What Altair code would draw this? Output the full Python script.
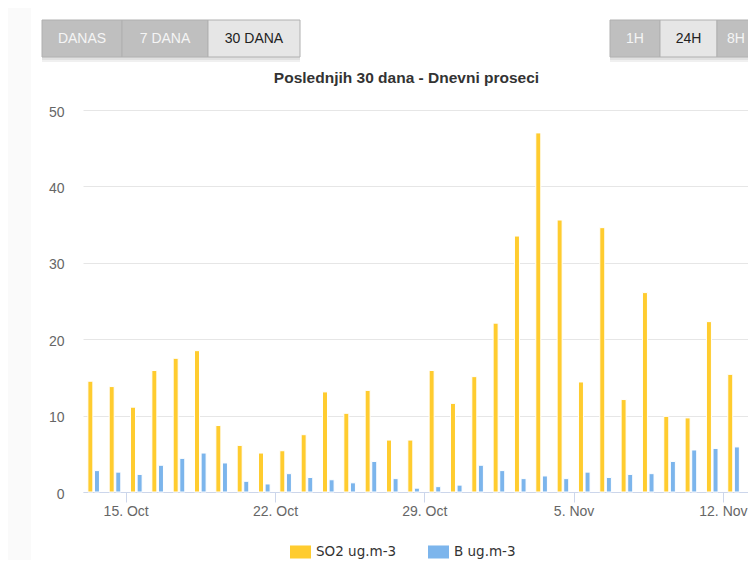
import altair as alt
import pandas as pd

# ---- data ----
days = [f"2018-10-{d:02d}" for d in range(13, 32)] + [f"2018-11-{d:02d}" for d in range(1, 13)]
so2 = [14.5, 13.8, 11.1, 15.9, 17.5, 18.5, 8.7, 6.1, 5.1, 5.4, 7.5, 13.1, 10.3, 13.3, 6.8,
       6.8, 15.9, 11.6, 15.1, 22.1, 33.5, 47.0, 35.6, 14.4, 34.6, 12.1, 26.1, 9.9, 9.7, 22.3, 15.4]
b_vals = [2.8, 2.6, 2.3, 3.5, 4.4, 5.1, 3.8, 1.4, 1.05, 2.4, 1.9, 1.6, 1.2, 4.0, 1.75,
          0.5, 0.7, 0.9, 3.5, 2.8, 1.75, 2.1, 1.75, 2.6, 1.9, 2.3, 2.4, 4.0, 5.5, 5.7, 5.9]
series = ["SO2 ug.m-3", "B ug.m-3"]
colors = ["#FFCC2F", "#7CB5EC"]
tick_days = ["2018-10-15", "2018-10-22", "2018-10-29", "2018-11-05", "2018-11-12"]
y_ticks = [0, 10, 20, 30, 40, 50]
title_text = "Poslednjih 30 dana - Dnevni proseci"
buttons_left = ["DANAS", "7 DANA", "30 DANA"]
buttons_right = ["1H", "24H", "8H"]

rows = []
for d, v in zip(days, so2):
    rows.append({"date": d + "T12:00:00Z", "series": series[0], "value": v})
for d, v in zip(days, b_vals):
    rows.append({"date": d + "T12:00:00Z", "series": series[1], "value": v})
df = pd.DataFrame(rows)

def ms(s):
    return int(pd.Timestamp(s, tz="UTC").value // 10**6)

DAY = 86400000
PLOT_W = 665
x_start = ms("2018-10-13")
x_end = x_start + int(PLOT_W / 21.33 * DAY)
tick_ms = [ms(t) for t in tick_days]

FONT = "Liberation Sans"

legend = alt.Legend(
    orient="none", legendX=207, legendY=431, direction="horizontal", title=None,
    symbolType="M-1,-0.62H1V0.62H-1Z", symbolSize=441, symbolStrokeWidth=0,
    symbolOpacity=1, labelFont="DejaVu Sans", labelFontSize=13.5, labelColor="#333333",
    labelOffset=5, columnPadding=31, padding=0,
)

x_enc = alt.X(
    "date:T",
    scale=alt.Scale(type="utc", domain=[x_start, x_end], nice=False, padding=0),
    axis=alt.Axis(
        values=tick_ms, format="%-d. %b", grid=False, title=None,
        domainColor="#ccd6eb", tickColor="#ccd6eb", tickSize=10, labelPadding=2,
        labelFont=FONT, labelFontSize=14, labelColor="#666666", labelFlush=False,
    ),
)
y_enc = alt.Y(
    "value:Q",
    scale=alt.Scale(domain=[0, 50], nice=False),
    axis=alt.Axis(
        values=y_ticks, grid=True, gridColor="#e6e6e6", domain=False, ticks=False,
        tickSize=0, labelPadding=19, labelOffset=2, title=None,
        labelFont=FONT, labelFontSize=14, labelColor="#666666",
    ),
)
color_enc = alt.Color("series:N", scale=alt.Scale(domain=series, range=colors), legend=legend)

base = alt.Chart(df)
bars_so2 = base.transform_filter(alt.datum.series == series[0]).mark_bar(
    size=5, xOffset=-3.3, stroke="white", strokeWidth=1
).encode(x=x_enc, y=y_enc, color=color_enc)
bars_b = base.transform_filter(alt.datum.series == series[1]).mark_bar(
    size=5, xOffset=3.3, stroke="white", strokeWidth=1
).encode(x=x_enc, y=y_enc, color=color_enc)

# ---- page decoration (buttons, side strip) ----
one = alt.Data(values=[{}])

def box(x1, x2, y1, y2, fill, stroke=None, sw=0, opacity=1.0):
    kw = dict(fill=fill, opacity=opacity)
    if stroke:
        kw.update(stroke=stroke, strokeWidth=sw)
    else:
        kw.update(strokeWidth=0)
    return alt.Chart(one).mark_rect(**kw).encode(
        x=alt.value(x1), x2=alt.value(x2), y=alt.value(y1), y2=alt.value(y2))

def label(text, x, y, color):
    return alt.Chart(one).mark_text(
        text=text, font=FONT, fontSize=14, color=color, align="center", baseline="middle"
    ).encode(x=alt.value(x), y=alt.value(y))

GRAY, LIGHT = "#BFBFBF", "#E6E6E6"
deco = [box(-75, -52, -102, 460, "#FAFAFA")]
# shadows
deco += [box(-41, 217, -53, -48, "#000000", opacity=0.06),
         box(-41, 217, -53, -50, "#000000", opacity=0.06),
         box(527, 690, -53, -48, "#000000", opacity=0.06),
         box(527, 690, -53, -50, "#000000", opacity=0.06)]
left_spans = [(-41, 39), (39, 125), (125, 217)]
right_spans = [(527, 577), (577, 634), (634, 690)]
for (x1, x2), txt, sel in zip(left_spans, buttons_left, [False, False, True]):
    deco.append(box(x1, x2, -90, -53, LIGHT if sel else GRAY, "#B0B0B0", 1))
    deco.append(label(txt, (x1 + x2) / 2, -71.5, "#222222" if sel else "#F5F5F5"))
for (x1, x2), txt, sel in zip(right_spans, buttons_right, [False, True, False]):
    deco.append(box(x1, x2, -90, -53, LIGHT if sel else GRAY, "#B0B0B0", 1))
    cx = (x1 + x2) / 2 if txt != "8H" else 653
    deco.append(label(txt, cx, -71.5, "#222222" if sel else "#F5F5F5"))

chart = alt.layer(*deco, bars_so2, bars_b).properties(
    width=PLOT_W, height=382,
    autosize="none",
    padding={"left": 75, "top": 102, "right": 0, "bottom": 68},
    title=alt.TitleParams(
        title_text, anchor="middle", frame="group", dx=-9, offset=-90,
        baseline="alphabetic", font=FONT, fontSize=15.5, fontWeight="bold", color="#333333",
    ),
    background="white",
).configure_view(strokeWidth=0)

chart.save("out.html", embed_options={"renderer": "svg", "actions": False})
